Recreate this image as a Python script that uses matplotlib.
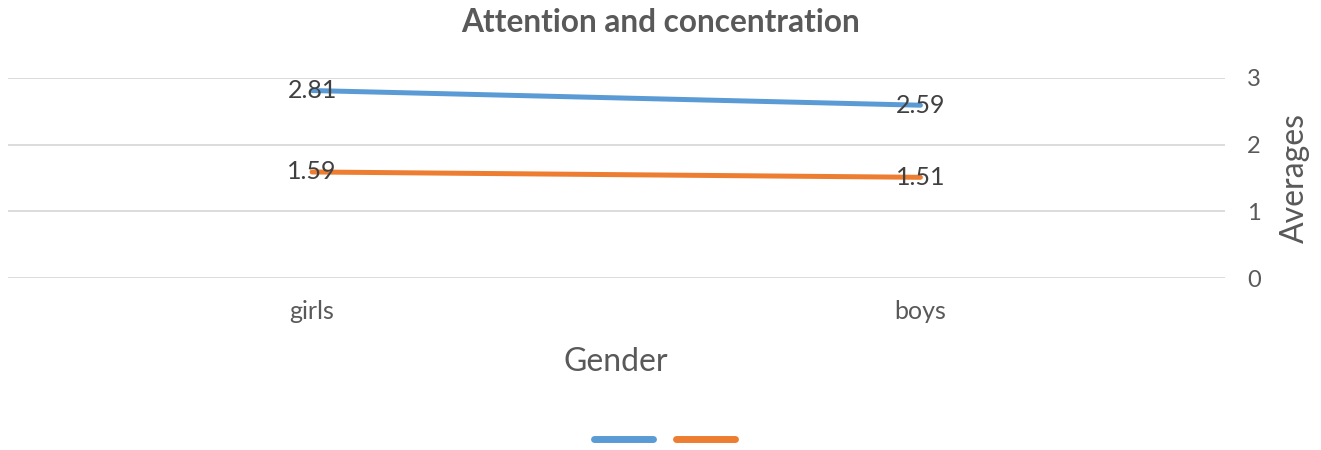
import matplotlib
matplotlib.use("Agg")
import matplotlib.pyplot as plt
from matplotlib.lines import Line2D

plt.rcParams['font.family'] = ['Lato', 'DejaVu Sans']

genders = ["girls", "boys"]
series_a = [2.81, 2.59]
series_b = [1.59, 1.51]
y_ticks = [0, 1, 2, 3]

blue = "#5B9BD5"
orange = "#ED7D31"
grid_col = "#D9D9D9"
txt_col = "#595959"

fig = plt.figure(figsize=(13.21, 4.5), dpi=100)
ax = fig.add_axes([0.006, 0.382, 0.921, 0.445])

x = list(range(len(genders)))
ax.plot(x, series_a, color=blue, linewidth=3.6, solid_capstyle="round", zorder=3)
ax.plot(x, series_b, color=orange, linewidth=3.6, solid_capstyle="round", zorder=3)

for xs, vals in [(x, series_a), (x, series_b)]:
    for xi, v in zip(xs, vals):
        ax.text(xi, v, f"{v:.2f}", ha="center", va="center",
                fontsize=18, color="#404040", zorder=4)

ax.set_xlim(-0.5, 1.5)
ax.set_ylim(0, 3)
ax.set_yticks(y_ticks)
ax.set_xticks(x)
ax.set_xticklabels(genders)
ax.yaxis.tick_right()
ax.yaxis.set_label_position("right")
ax.tick_params(axis="y", length=0, pad=16, labelsize=17, labelcolor=txt_col)
ax.tick_params(axis="x", length=0, pad=16, labelsize=18, labelcolor=txt_col)
ax.grid(axis="y", color=grid_col, linewidth=1.3)
ax.set_axisbelow(True)
for s in ax.spines.values():
    s.set_visible(False)

ax.set_ylabel("Averages", fontsize=23, color=txt_col, labelpad=14)
ax.set_xlabel("Gender", fontsize=23, color=txt_col, labelpad=17)
fig.text(0.5, 0.95, "Attention and concentration", ha="center", va="center",
         fontsize=22.8, fontweight="bold", color=txt_col)

handles = [Line2D([], [], color=blue, linewidth=5, solid_capstyle="round"),
           Line2D([], [], color=orange, linewidth=5, solid_capstyle="round")]
fig.legend(handles, ["", ""], loc="center", bbox_to_anchor=(0.503, 0.022),
           ncol=2, frameon=False, handlelength=4.3, handletextpad=0,
           columnspacing=1.6, fontsize=10)

fig.savefig("out.png", dpi=100)
